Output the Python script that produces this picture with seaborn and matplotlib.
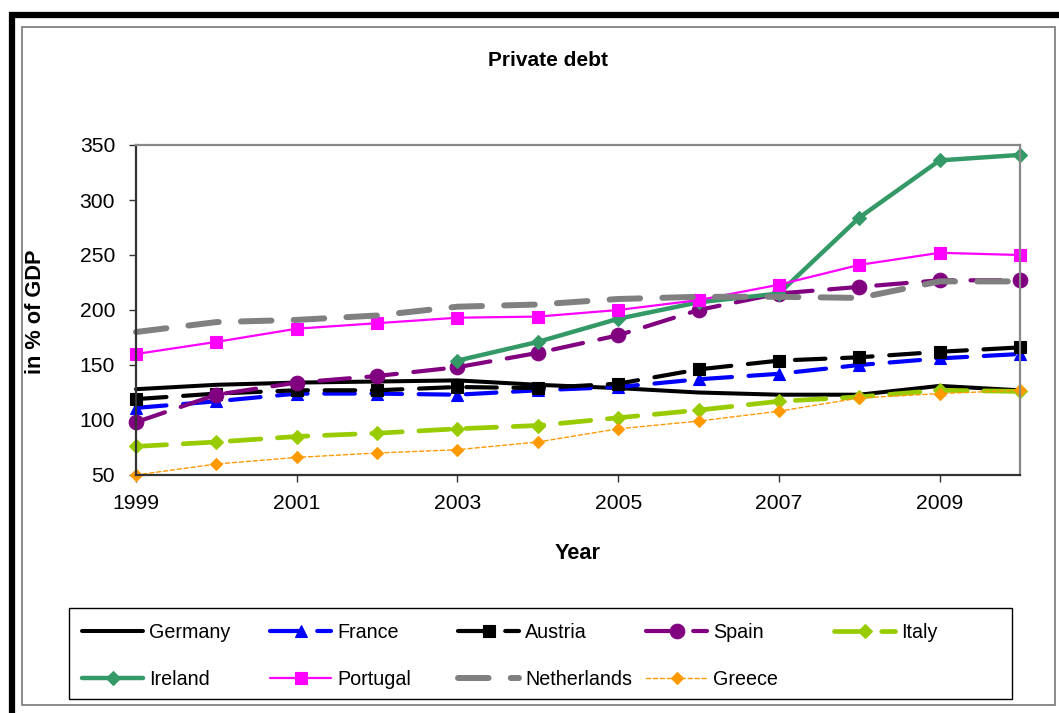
import numpy as np
import pandas as pd
import matplotlib
matplotlib.use("Agg")
import matplotlib.pyplot as plt
from matplotlib import font_manager
from matplotlib.patches import Rectangle
import seaborn as sns

# ---- data: private debt, in % of GDP ----
years = [1999, 2000, 2001, 2002, 2003, 2004, 2005, 2006, 2007, 2008, 2009, 2010]
germany = [128, 132, 134, 135, 136, 132, 129, 125, 123, 123, 131, 127]
france = [111, 117, 124, 124, 123, 127, 130, 137, 142, 150, 156, 160]
austria = [119, 124, 127, 127, 130, 129, 133, 146, 154, 157, 162, 166]
spain = [98, 123, 134, 140, 148, 161, 177, 200, 215, 221, 227, 227]
italy = [76, 80, 85, 88, 92, 95, 102, 109, 117, 121, 127, 126]
ireland = [np.nan, np.nan, np.nan, np.nan, 154, 171, 192, 207, 215, 284, 336, 341]
portugal = [160, 171, 183, 188, 193, 194, 200, 209, 223, 241, 252, 250]
netherlands = [180, 189, 191, 195, 203, 205, 210, 212, 212, 211, 226, 226]
greece = [50, 60, 66, 70, 73, 80, 92, 99, 108, 120, 124, 127]

series = {
    "Germany": germany, "France": france, "Austria": austria, "Spain": spain,
    "Italy": italy, "Ireland": ireland, "Portugal": portugal,
    "Netherlands": netherlands, "Greece": greece,
}

x_ticks = [1999, 2001, 2003, 2005, 2007, 2009]
y_ticks = [50, 100, 150, 200, 250, 300, 350]

LONG = (0, (22, 12))
WIDE = (0, (22, 16))
FINE = (0, (3, 2))
styles = {
    "Germany":     dict(color="#000000", lw=2.9, ls="-", marker=None, ms=0),
    "France":      dict(color="#0000FF", lw=3.0, ls=LONG, marker="^", ms=8),
    "Austria":     dict(color="#000000", lw=3.0, ls=LONG, marker="s", ms=9),
    "Spain":       dict(color="#800080", lw=3.0, ls=LONG, marker="o", ms=10.5),
    "Italy":       dict(color="#99CC00", lw=3.4, ls=LONG, marker="D", ms=7),
    "Ireland":     dict(color="#339966", lw=3.2, ls="-", marker="D", ms=7.5),
    "Portugal":    dict(color="#FF00FF", lw=1.6, ls="-", marker="s", ms=9),
    "Netherlands": dict(color="#808080", lw=4.3, ls=WIDE, marker=None, ms=0),
    "Greece":      dict(color="#FF9900", lw=1.0, ls=FINE, marker="D", ms=6.5),
}

sns.set_theme(style="white")
available = {f.name for f in font_manager.fontManager.ttflist}
if "Liberation Sans Narrow" in available:
    family, scale = "Liberation Sans Narrow", 1.08
else:
    family, scale = "Liberation Sans", 0.92
plt.rcParams["font.family"] = [family, "DejaVu Sans"]
plt.rcParams["lines.scale_dashes"] = False
plt.rcParams["text.color"] = "black"
plt.rcParams["axes.labelcolor"] = "black"

W, H = 1059, 713
fig = plt.figure(figsize=(W / 100, H / 100), dpi=100)
fig.patch.set_facecolor("white")


def fx(px):
    return px / W


def fy(py):
    return 1 - py / H


ax = fig.add_axes([fx(136), fy(475), fx(1020) - fx(136), fy(145) - fy(475)])

for name, vals in series.items():
    st = styles[name]
    df = pd.DataFrame({"Year": years, "value": vals}).dropna()
    kw = dict(color=st["color"], linewidth=st["lw"], linestyle=st["ls"],
              dash_capstyle="round", solid_capstyle="round",
              solid_joinstyle="round", label=name, clip_on=False,
              errorbar=None, legend=False, ax=ax)
    if st["marker"]:
        kw.update(marker=st["marker"], markersize=st["ms"],
                  markeredgecolor=st["color"], markerfacecolor=st["color"],
                  markeredgewidth=0.8)
    sns.lineplot(data=df, x="Year", y="value", **kw)

ax.set_xlim(1999, 2010)
ax.set_ylim(50, 350)
ax.set_xticks(x_ticks)
ax.set_xticklabels([str(t) for t in x_ticks])
ax.set_yticks(y_ticks)
ax.set_yticklabels([str(t) for t in y_ticks])
ax.tick_params(axis="both", which="major", direction="out", length=5,
               width=1, colors="#333333", labelcolor="black",
               labelsize=16.5 * scale)
ax.tick_params(axis="y", pad=10)
ax.tick_params(axis="x", pad=9)
ax.tick_params(left=True, bottom=True)

for side in ("left", "bottom"):
    ax.spines[side].set_color("#333333")
    ax.spines[side].set_linewidth(1.6)
for side in ("top", "right"):
    ax.spines[side].set_color("#888888")
    ax.spines[side].set_linewidth(1.6)

ax.set_xlabel("Year", fontsize=17 * scale, fontweight="bold", color="black")
ax.set_ylabel("in % of GDP", fontsize=17 * scale, fontweight="bold",
              color="black")
ax.xaxis.set_label_coords(0.5, -0.205)
ax.yaxis.set_label_coords(-0.102, 0.495)

fig.text(fx(548), fy(60), "Private debt", ha="center", va="center",
         fontsize=16.3 * scale, fontweight="bold", color="black")

# legend: five columns of up to two entries each, inside one frame
handles, labels = ax.get_legend_handles_labels()
lookup = dict(zip(labels, handles))
row1 = ["Germany", "France", "Austria", "Spain", "Italy"]
row2 = ["Ireland", "Portugal", "Netherlands", "Greece"]
col_x = [82, 270, 458, 646, 834]
for i, x0 in enumerate(col_x):
    names = [row1[i]] + ([row2[i]] if i < len(row2) else [])
    leg = fig.legend([lookup[n] for n in names], names, loc="upper left",
                     bbox_to_anchor=(fx(x0), fy(623)), frameon=False,
                     borderpad=0, borderaxespad=0, handlelength=3.1,
                     handletextpad=0.3, labelspacing=1.4, numpoints=1,
                     fontsize=15.5 * scale)
    for t in leg.get_texts():
        t.set_color("black")

fig.patches.append(Rectangle((fx(69), fy(699)), fx(1012) - fx(69),
                             fy(608) - fy(699), transform=fig.transFigure,
                             fill=False, edgecolor="black", linewidth=1.0))
# chart area frame and outer frame
fig.patches.append(Rectangle((fx(22), fy(705)), fx(1055) - fx(22),
                             fy(27) - fy(705), transform=fig.transFigure,
                             fill=False, edgecolor="#777777", linewidth=1.2))
fig.patches.append(Rectangle((fx(11.5), fy(730)), fx(1080) - fx(11.5),
                             fy(15) - fy(730), transform=fig.transFigure,
                             fill=False, edgecolor="black", linewidth=4.5))

fig.savefig("out.png", dpi=100, facecolor="white")
